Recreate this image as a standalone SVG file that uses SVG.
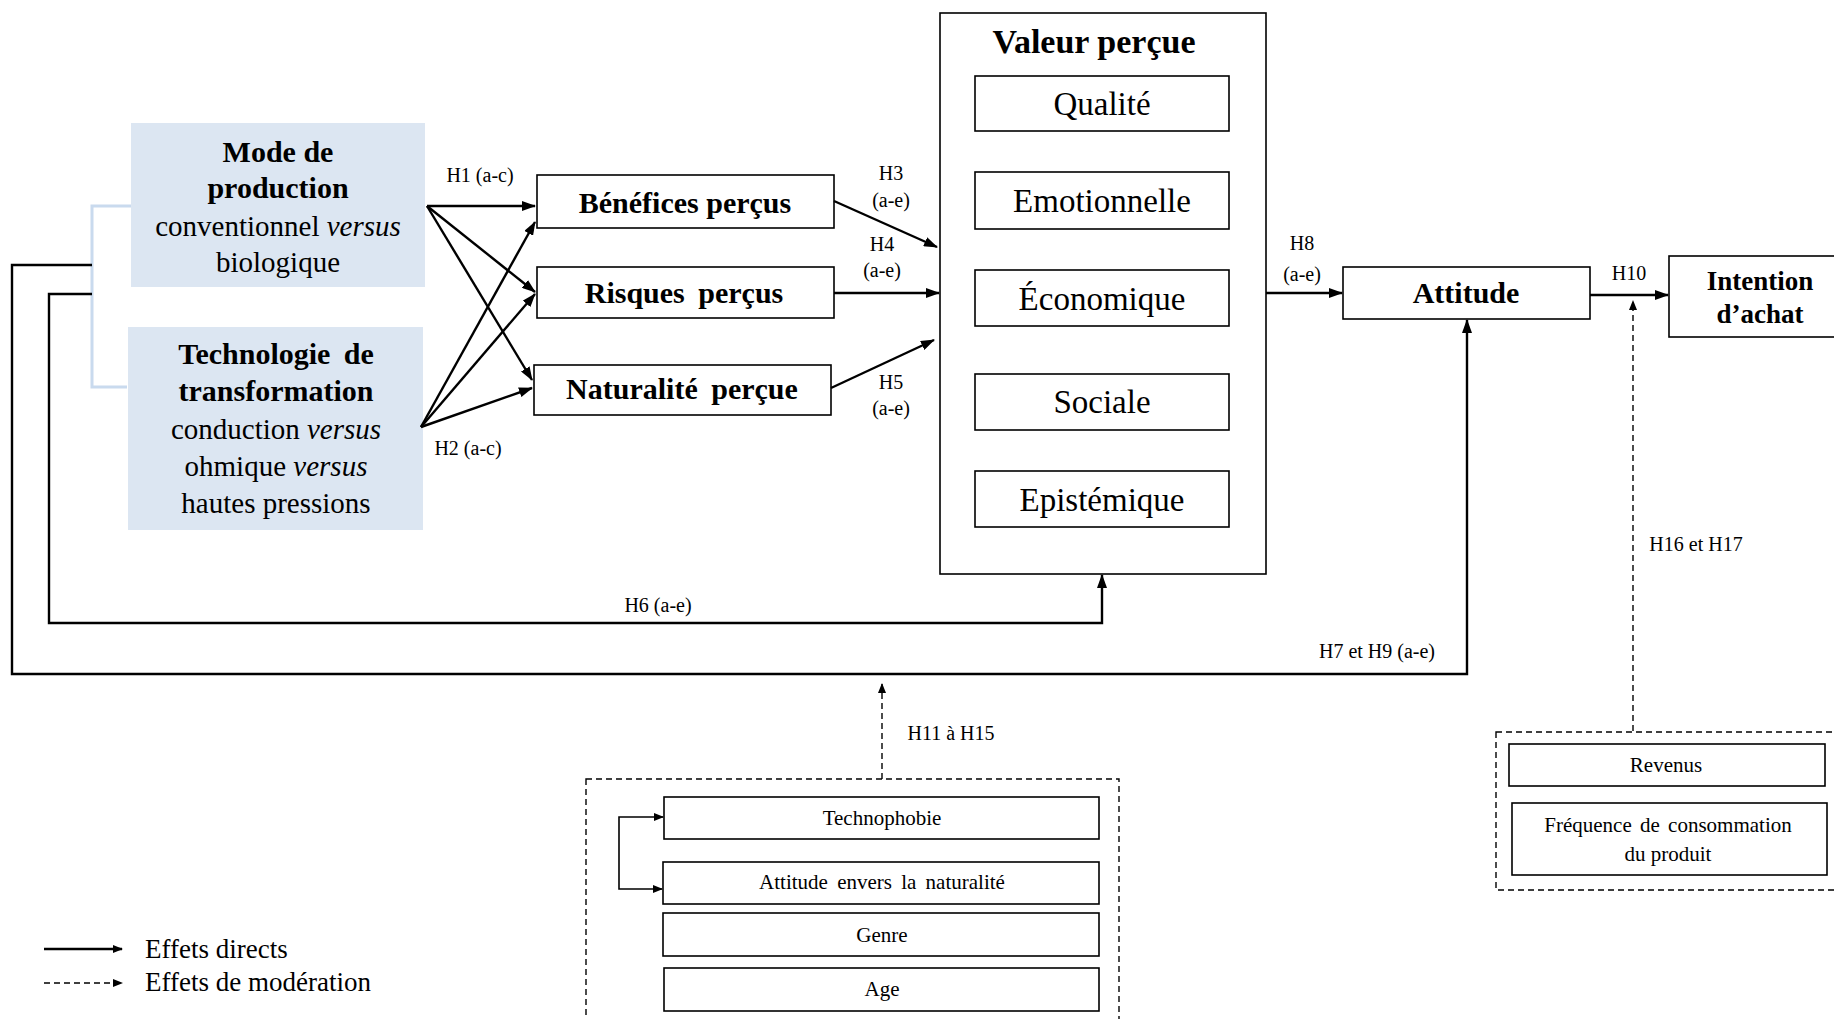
<svg xmlns="http://www.w3.org/2000/svg" width="1834" height="1019" viewBox="0 0 1834 1019">
<defs>
<marker id="ah" markerUnits="userSpaceOnUse" markerWidth="14" markerHeight="10" refX="13" refY="5" orient="auto-start-reverse">
<path d="M0,0 L14,5 L0,10 Z" fill="#000"/>
</marker>
<marker id="ahs" markerUnits="userSpaceOnUse" markerWidth="10" markerHeight="8" refX="9" refY="4" orient="auto-start-reverse">
<path d="M0,0 L10,4 L0,8 Z" fill="#000"/>
</marker>
</defs>
<style>
text{font-family:"Liberation Serif","Times New Roman",serif;fill:#000;text-anchor:middle}
.box{fill:#fff;stroke:#000;stroke-width:1.6}
.blue{fill:#dce6f2;stroke:none}
.bt{font-size:30px;font-weight:bold}
.rt{font-size:29px}
.vt{font-size:33px}
.st{font-size:21px}
.lab{font-size:20px}
.arr{fill:none;stroke:#000;stroke-width:2.4;marker-end:url(#ah)}
.ln{fill:none;stroke:#000;stroke-width:2.4}
.dash{fill:none;stroke:#000;stroke-width:1.4;stroke-dasharray:6 4}
.dbox{fill:none;stroke:#000;stroke-width:1.4;stroke-dasharray:6 4}
</style>
<rect width="1834" height="1019" fill="#fff"/>

<g id="bracket">
<path d="M131 206 H92 V387 H127" fill="none" stroke="#c9daee" stroke-width="3"/>
</g>

<g id="mode-production">
<rect class="blue" x="131" y="123" width="294" height="164"/>
<text class="bt" x="278" y="162">Mode de</text>
<text class="bt" x="278" y="198">production</text>
<text class="rt" x="278" y="236">conventionnel <tspan font-style="italic">versus</tspan></text>
<text class="rt" x="278" y="272">biologique</text>
</g>

<g id="technologie">
<rect class="blue" x="128" y="327" width="295" height="203"/>
<text class="bt" x="276" y="364" word-spacing="6">Technologie de</text>
<text class="bt" x="276" y="401">transformation</text>
<text class="rt" x="276" y="439">conduction <tspan font-style="italic">versus</tspan></text>
<text class="rt" x="276" y="476">ohmique <tspan font-style="italic">versus</tspan></text>
<text class="rt" x="276" y="513">hautes pressions</text>
</g>

<g id="benefices">
<rect class="box" x="537" y="175" width="297" height="53"/>
<text class="bt" x="685" y="213">Bénéfices perçus</text>
</g>
<g id="risques">
<rect class="box" x="537" y="267" width="297" height="51"/>
<text class="bt" x="684" y="303" word-spacing="6">Risques perçus</text>
</g>
<g id="naturalite">
<rect class="box" x="534" y="365" width="297" height="50"/>
<text class="bt" x="682" y="399" word-spacing="6">Naturalité perçue</text>
</g>

<g id="valeur-percue">
<rect class="box" x="940" y="13" width="326" height="561"/>
<text class="bt" x="1094" y="53" style="font-size:34px">Valeur perçue</text>
<rect class="box" x="975" y="76" width="254" height="55"/>
<text class="vt" x="1102" y="115">Qualité</text>
<rect class="box" x="975" y="172" width="254" height="57"/>
<text class="vt" x="1102" y="212">Emotionnelle</text>
<rect class="box" x="975" y="270" width="254" height="56"/>
<text class="vt" x="1102" y="310">Économique</text>
<rect class="box" x="975" y="374" width="254" height="56"/>
<text class="vt" x="1102" y="413">Sociale</text>
<rect class="box" x="975" y="471" width="254" height="56"/>
<text class="vt" x="1102" y="511">Epistémique</text>
</g>

<g id="attitude">
<rect class="box" x="1343" y="267" width="247" height="52"/>
<text class="bt" x="1466" y="303">Attitude</text>
</g>

<g id="intention">
<rect class="box" x="1669" y="256" width="175" height="81"/>
<text class="bt" x="1760" y="290" style="font-size:27px">Intention</text>
<text class="bt" x="1760" y="323" style="font-size:27px">d’achat</text>
</g>

<g id="moderateurs">
<rect class="dbox" x="586" y="779" width="533" height="260"/>
<rect class="box" x="664" y="797" width="435" height="42"/>
<text class="st" x="882" y="825">Technophobie</text>
<rect class="box" x="663" y="862" width="436" height="42"/>
<text class="st" x="882" y="889" word-spacing="4">Attitude envers la naturalité</text>
<rect class="box" x="663" y="913" width="436" height="43"/>
<text class="st" x="882" y="942">Genre</text>
<rect class="box" x="664" y="968" width="435" height="43"/>
<text class="st" x="882" y="996">Age</text>
</g>

<g id="moderateurs-2">
<rect class="dbox" x="1496" y="732" width="350" height="158"/>
<rect class="box" x="1509" y="744" width="316" height="42"/>
<text class="st" x="1666" y="772">Revenus</text>
<rect class="box" x="1512" y="803" width="315" height="72"/>
<text class="st" x="1668" y="832" word-spacing="3">Fréquence de consommation</text>
<text class="st" x="1668" y="861">du produit</text>
</g>

<g id="connectors">
<path class="arr" d="M427 206 L535 206"/>
<path class="arr" d="M427 206 L535 292"/>
<path class="arr" d="M427 206 L532 380"/>
<path class="arr" d="M421 427 L535 222"/>
<path class="arr" d="M421 427 L535 294"/>
<path class="arr" d="M421 427 L532 388"/>
<path class="arr" d="M834 201 L937 247"/>
<path class="arr" d="M834 293 L939 293"/>
<path class="arr" d="M831 388 L934 340"/>
<path class="arr" d="M1266 293 L1342 293"/>
<path class="arr" d="M1590 295 L1668 295"/>
<path class="arr" d="M92 294 H49 V623 H1102 V575"/>
<path class="arr" d="M92 265 H12 V674 H1467 V320"/>
<path class="dash" d="M882 779 V684" marker-end="url(#ahs)"/>
<path class="dash" d="M1633 731 V301" marker-end="url(#ahs)"/>
<path d="M663 817 H619 V889 H662" fill="none" stroke="#000" stroke-width="1.6" marker-start="url(#ahs)" marker-end="url(#ahs)"/>
</g>

<g id="labels">
<text class="lab" x="480" y="182">H1 (a-c)</text>
<text class="lab" x="468" y="455">H2 (a-c)</text>
<text class="lab" x="891" y="180">H3</text>
<text class="lab" x="891" y="207">(a-e)</text>
<text class="lab" x="882" y="251">H4</text>
<text class="lab" x="882" y="277">(a-e)</text>
<text class="lab" x="891" y="389">H5</text>
<text class="lab" x="891" y="415">(a-e)</text>
<text class="lab" x="1302" y="250">H8</text>
<text class="lab" x="1302" y="281">(a-e)</text>
<text class="lab" x="1629" y="280">H10</text>
<text class="lab" x="658" y="612">H6 (a-e)</text>
<text class="lab" x="1377" y="658">H7 et H9 (a-e)</text>
<text class="lab" x="951" y="740">H11 à H15</text>
<text class="lab" x="1696" y="551">H16 et H17</text>
</g>

<g id="legend">
<path class="ln" d="M44 949 H122" marker-end="url(#ahs)"/>
<path class="dash" d="M44 983 H122" marker-end="url(#ahs)"/>
<text x="145" y="958" style="font-size:27px;text-anchor:start">Effets directs</text>
<text x="145" y="991" style="font-size:27px;text-anchor:start">Effets de modération</text>
</g>
</svg>
